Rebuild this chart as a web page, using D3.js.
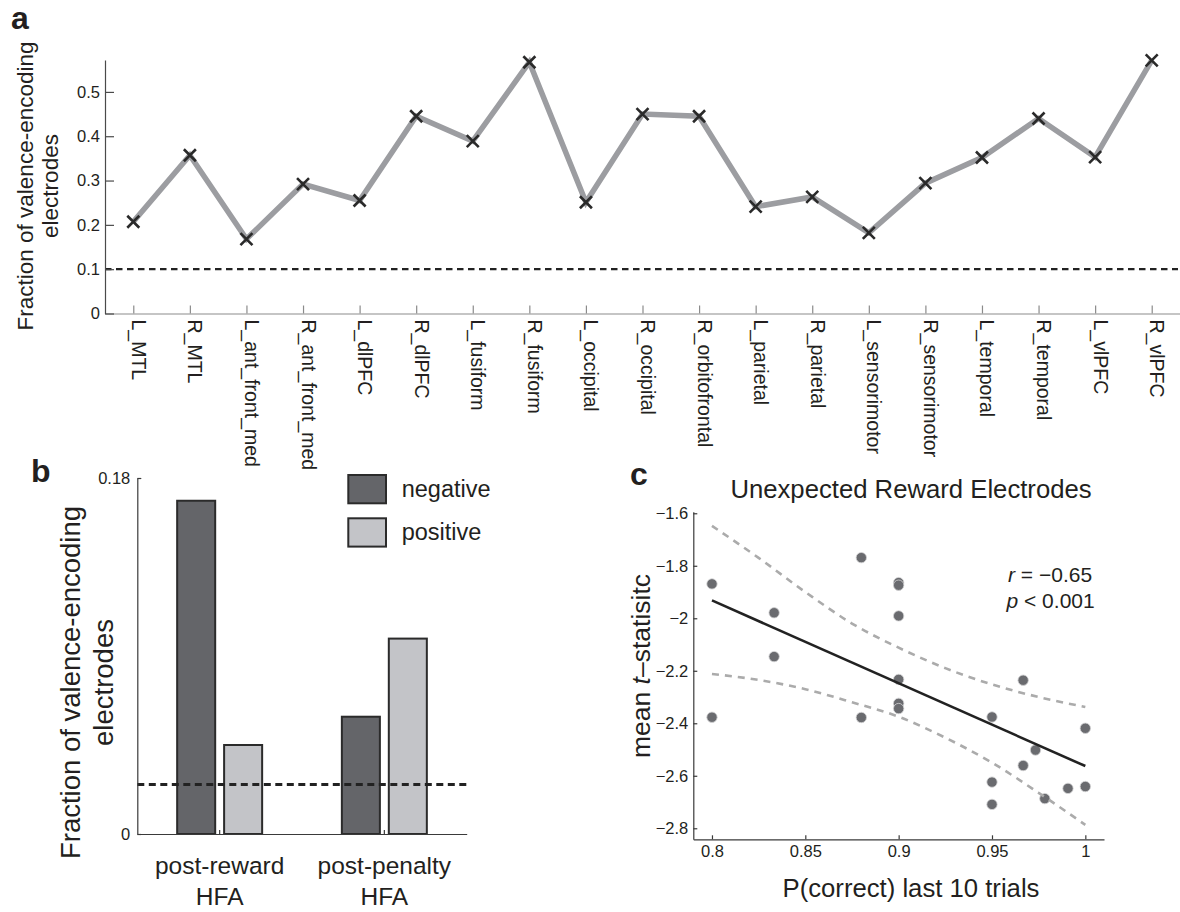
<!DOCTYPE html>
<html>
<head>
<meta charset="utf-8">
<title>Valence-encoding electrodes</title>
<script src="https://cdn.jsdelivr.net/npm/d3@7"></script>
<style>
  html, body { margin: 0; padding: 0; background: #fff; }
  svg text { font-family: "Liberation Sans", Arial, Helvetica, sans-serif; fill: #231f20; }
</style>
</head>
<body>
<svg id="figure" width="1180" height="912"></svg>
<script>
// ---- panel a: fraction of valence-encoding electrodes per region
const regions = ['L_MTL', 'R_MTL', 'L_ant_front_med', 'R_ant_front_med', 'L_dlPFC', 'R_dlPFC',
    'L_fusiform', 'R_fusiform', 'L_occipital', 'R_occipital', 'R_orbitofrontal', 'L_parietal',
    'R_parietal', 'L_sensorimotor', 'R_sensorimotor', 'L_temporal', 'R_temporal', 'L_vlPFC', 'R_vlPFC'];
const regionFraction = [0.207, 0.357, 0.168, 0.292, 0.255, 0.445, 0.389, 0.567, 0.251, 0.450,
    0.445, 0.241, 0.263, 0.182, 0.294, 0.352, 0.440, 0.353, 0.571];
const chanceA = 0.1;
const yTicksA = [0, 0.1, 0.2, 0.3, 0.4, 0.5];
const yLabelLines = ['Fraction of valence-encoding', 'electrodes'];

// ---- panel b: negative / positive encoding after reward and penalty
const hfaGroups = ['post-reward HFA', 'post-penalty HFA'];
const valenceSeries = ['negative', 'positive'];
const negativeFraction = [0.1685, 0.0593];
const positiveFraction = [0.045, 0.0988];
const chanceB = 0.025;
const yTicksB = [0, 0.18];

// ---- panel c: unexpected reward electrodes
const pCorrect = [0.8, 0.8, 0.8333, 0.8333, 0.88, 0.88, 0.9, 0.9, 0.9, 0.9, 0.9, 0.9,
    0.95, 0.95, 0.95, 0.9667, 0.9667, 0.9733, 0.9783, 0.9907, 1.0, 1.0];
const meanTStat = [-1.869, -2.377, -1.979, -2.146, -1.769, -2.378, -1.864, -1.874, -1.991, -2.233,
    -2.324, -2.344, -2.376, -2.624, -2.709, -2.236, -2.561, -2.502, -2.687, -2.648, -2.419, -2.641];
const fitX = [0.8, 1.0];
const fitY = [-1.932, -2.563];
const ciX = [0.8, 0.825, 0.85, 0.875, 0.9, 0.925, 0.95, 0.975, 1.0];
const ciUpper = [-1.648, -1.77, -1.90, -2.02, -2.112, -2.19, -2.252, -2.30, -2.338];
const ciLower = [-2.212, -2.235, -2.27, -2.32, -2.375, -2.455, -2.55, -2.665, -2.787];
const xTicksC = [0.8, 0.85, 0.9, 0.95, 1];
const yTicksC = [-2.8, -2.6, -2.4, -2.2, -2, -1.8, -1.6];
const statR = '\u22120.65';
const statP = '0.001';

const svg = d3.select('#figure');
const fmt = d3.format('');

function styleAxis(g, color, fontSize) {
    g.attr('font-family', null).attr('font-size', fontSize);
    g.select('.domain').attr('stroke', color).attr('stroke-width', 1.2);
    g.selectAll('.tick line').attr('stroke', color).attr('stroke-width', 1.2);
    g.selectAll('.tick text').attr('fill', '#231f20');
}

function panelLetter(letter, x, y) {
    svg.append('text')
        .attr('x', x).attr('y', y)
        .style('font-size', '32px')
        .style('font-weight', 'bold')
        .text(letter);
}

function drawPanelA() {
    const g = svg.append('g').attr('class', 'panel-a');
    const x = d3.scalePoint().domain(regions).range([105, 1180]).padding(0.5);
    const y = d3.scaleLinear().domain([0, 0.572]).range([313.5, 60]);

    // chance level
    g.append('line')
        .attr('x1', x.range()[0]).attr('x2', x.range()[1] - 2)
        .attr('y1', y(chanceA)).attr('y2', y(chanceA))
        .attr('stroke', '#222').attr('stroke-width', 2.3)
        .attr('stroke-dasharray', '6.5,4.5');

    const line = d3.line()
        .x((d, i) => x(regions[i]))
        .y(d => y(d));

    g.append('path')
        .datum(regionFraction)
        .attr('fill', 'none')
        .attr('stroke', '#9c9da1')
        .attr('stroke-width', 5.5)
        .attr('stroke-linejoin', 'miter')
        .attr('d', line);

    g.selectAll('path.cross')
        .data(regionFraction)
        .join('path')
        .attr('class', 'cross')
        .attr('d', 'M-6,-6L6,6M-6,6L6,-6')
        .attr('transform', (d, i) => `translate(${x(regions[i])},${y(d)})`)
        .attr('stroke', '#2a2a2a')
        .attr('stroke-width', 2.6)
        .attr('fill', 'none');

    const xAxis = g.append('g')
        .attr('transform', `translate(0,${y(0)})`)
        .call(d3.axisBottom(x).tickSizeInner(-8).tickSizeOuter(0));
    styleAxis(xAxis, '#8b8b8b', 19.5);
    xAxis.selectAll('.tick text')
        .attr('y', 0).attr('dy', null)
        .attr('text-anchor', 'start')
        .attr('transform', 'translate(-2,6) rotate(90)');

    const yAxis = g.append('g')
        .attr('transform', 'translate(105,0)')
        .call(d3.axisLeft(y).tickValues(yTicksA).tickSizeInner(-9).tickSizeOuter(0)
            .tickPadding(5).tickFormat(fmt));
    styleAxis(yAxis, '#4a4a4a', 16.5);

    g.append('text')
        .attr('transform', 'translate(33,186) rotate(-90)')
        .attr('text-anchor', 'middle')
        .style('font-size', '22.5px')
        .selectAll('tspan')
        .data(yLabelLines)
        .join('tspan')
        .attr('x', 0)
        .attr('dy', (d, i) => (i ? '1.11em' : 0))
        .text(d => d);

    panelLetter('a', 11, 28.5);
}

function drawPanelB() {
    const g = svg.append('g').attr('class', 'panel-b');
    const x0 = d3.scaleBand().domain(hfaGroups).range([137.3, 466.7])
        .paddingInner(0.484).paddingOuter(0.242);
    const x1 = d3.scaleBand().domain(valenceSeries).range([0, x0.bandwidth()]).paddingInner(0.19);
    const y = d3.scaleLinear().domain([0, 0.18]).range([834, 478]);
    const color = d3.scaleOrdinal().domain(valenceSeries).range(['#646569', '#c3c4c8']);

    const rows = hfaGroups.map((grp, i) => ({
        grp,
        values: [
            { key: 'negative', v: negativeFraction[i] },
            { key: 'positive', v: positiveFraction[i] }
        ]
    }));

    g.selectAll('g.group')
        .data(rows)
        .join('g')
        .attr('class', 'group')
        .attr('transform', d => `translate(${x0(d.grp)},0)`)
        .selectAll('rect')
        .data(d => d.values)
        .join('rect')
        .attr('x', d => x1(d.key))
        .attr('y', d => y(d.v))
        .attr('width', x1.bandwidth())
        .attr('height', d => y(0) - y(d.v))
        .attr('fill', d => color(d.key))
        .attr('stroke', '#2b2b2b')
        .attr('stroke-width', 2);

    g.append('line')
        .attr('x1', x0.range()[0]).attr('x2', x0.range()[1])
        .attr('y1', y(chanceB)).attr('y2', y(chanceB))
        .attr('stroke', '#222').attr('stroke-width', 3)
        .attr('stroke-dasharray', '7,4.5');

    const xAxis = g.append('g')
        .attr('transform', `translate(0,${y(0)})`)
        .call(d3.axisBottom(x0).tickSizeInner(-4).tickSizeOuter(0));
    styleAxis(xAxis, '#3a3a3a', 24.5);
    xAxis.selectAll('.tick text')
        .attr('dy', null).attr('y', null)
        .text(null)
        .selectAll('tspan')
        .data(d => d.split(' '))
        .join('tspan')
        .attr('x', 0)
        .attr('y', (d, i) => 40 + i * 31)
        .text(d => d);

    const yAxis = g.append('g')
        .attr('transform', `translate(${x0.range()[0]},0)`)
        .call(d3.axisLeft(y).tickValues(yTicksB).tickSizeInner(-4).tickSizeOuter(0)
            .tickPadding(7).tickFormat(fmt));
    styleAxis(yAxis, '#3a3a3a', 16.5);

    g.append('text')
        .attr('transform', 'translate(80,682.5) rotate(-90)')
        .attr('text-anchor', 'middle')
        .style('font-size', '27.5px')
        .selectAll('tspan')
        .data(yLabelLines)
        .join('tspan')
        .attr('x', 0)
        .attr('dy', (d, i) => (i ? '1.2em' : 0))
        .text(d => d);

    // legend
    const legend = g.selectAll('g.legend-item')
        .data(valenceSeries)
        .join('g')
        .attr('class', 'legend-item')
        .attr('transform', (d, i) => `translate(348.3,${475 + i * 43.3})`);
    legend.append('rect')
        .attr('width', 37.7).attr('height', 28.3)
        .attr('fill', d => color(d))
        .attr('stroke', '#2b2b2b').attr('stroke-width', 2);
    legend.append('text')
        .attr('x', 53.4).attr('y', 22)
        .style('font-size', '23.5px')
        .text(d => d);

    panelLetter('b', 31, 482);
}

function drawPanelC() {
    const g = svg.append('g').attr('class', 'panel-c');
    const x = d3.scaleLinear().domain([0.79, 1.01]).range([693.3, 1104]);
    const y = d3.scaleLinear().domain([-2.842, -1.594]).range([839.3, 511.7]);

    g.selectAll('circle')
        .data(pCorrect)
        .join('circle')
        .attr('cx', d => x(d))
        .attr('cy', (d, i) => y(meanTStat[i]))
        .attr('r', 5.2)
        .attr('fill', '#6a6b6f')
        .attr('stroke', '#d4d4d6')
        .attr('stroke-width', 0.8);

    const ciLine = d3.line()
        .x((d, i) => x(ciX[i]))
        .y(d => y(d))
        .curve(d3.curveMonotoneX);

    g.selectAll('path.ci')
        .data([ciUpper, ciLower])
        .join('path')
        .attr('class', 'ci')
        .attr('d', ciLine)
        .attr('fill', 'none')
        .attr('stroke', '#ababab')
        .attr('stroke-width', 2.6)
        .attr('stroke-dasharray', '7,6');

    g.append('path')
        .datum(fitY)
        .attr('d', d3.line().x((d, i) => x(fitX[i])).y(d => y(d)))
        .attr('fill', 'none')
        .attr('stroke', '#222')
        .attr('stroke-width', 2.6);

    const xAxis = g.append('g')
        .attr('transform', `translate(0,${y.range()[0]})`)
        .call(d3.axisBottom(x).tickValues(xTicksC).tickSizeInner(-4).tickSizeOuter(0)
            .tickPadding(6).tickFormat(fmt));
    styleAxis(xAxis, '#3a3a3a', 16.5);

    const yAxis = g.append('g')
        .attr('transform', `translate(${x.range()[0]},0)`)
        .call(d3.axisLeft(y).tickValues(yTicksC).tickSizeInner(-4).tickSizeOuter(0)
            .tickPadding(5).tickFormat(fmt));
    styleAxis(yAxis, '#3a3a3a', 16.5);

    g.append('text')
        .attr('x', 911).attr('y', 498)
        .attr('text-anchor', 'middle')
        .style('font-size', '25.7px')
        .text('Unexpected Reward Electrodes');

    g.append('text')
        .attr('x', 911).attr('y', 896.5)
        .attr('text-anchor', 'middle')
        .style('font-size', '25.7px')
        .text('P(correct) last 10 trials');

    const yl = g.append('text')
        .attr('transform', 'translate(650,666) rotate(-90)')
        .attr('text-anchor', 'middle')
        .style('font-size', '26.5px');
    yl.append('tspan').text('mean ');
    yl.append('tspan').style('font-style', 'italic').text('t');
    yl.append('tspan').text('\u2013statisitc');

    const rText = g.append('text').attr('x', 1008).attr('y', 581.5).style('font-size', '21px');
    rText.append('tspan').style('font-style', 'italic').text('r');
    rText.append('tspan').text(' = ' + statR);

    const pText = g.append('text').attr('x', 1006.5).attr('y', 608).style('font-size', '21px');
    pText.append('tspan').style('font-style', 'italic').text('p');
    pText.append('tspan').text(' < ' + statP);

    panelLetter('c', 630, 485);
}

drawPanelA();
drawPanelB();
drawPanelC();
</script>
</body>
</html>
